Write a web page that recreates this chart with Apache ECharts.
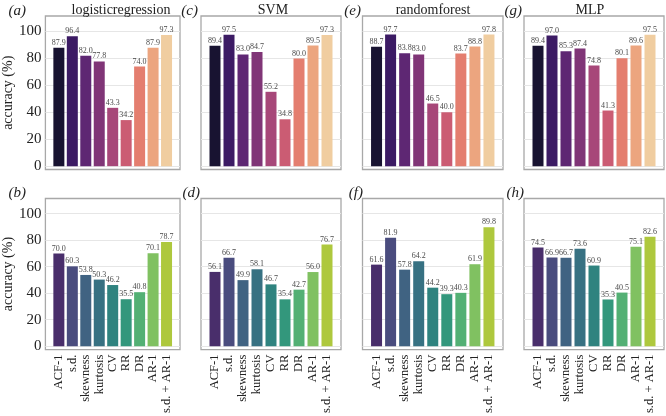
<!DOCTYPE html>
<html><head><meta charset="utf-8">
<script src="https://cdn.jsdelivr.net/npm/echarts@6/dist/echarts.min.js"></script>
<style>html,body{margin:0;padding:0;background:#fff}#c{width:666px;height:416px}</style>
</head><body><div id="c"></div>
<script>
const categories = ['ACF-1','s.d.','skewness','kurtosis','CV','RR','DR','AR-1','s.d. + AR-1'];
const titles = ['logisticregression','SVM','randomforest','MLP'];
const topLetters = ['(a)','(c)','(e)','(g)'];
const botLetters = ['(b)','(d)','(f)','(h)'];
const lrTop  = [87.9,96.4,82.0,77.8,43.3,34.2,74.0,87.9,97.3];
const svmTop = [89.4,97.5,83.0,84.7,55.2,34.8,80.0,89.5,97.3];
const rfTop  = [88.7,97.7,83.8,83.0,46.5,40.0,83.7,88.8,97.8];
const mlpTop = [89.4,97.0,85.3,87.4,74.8,41.3,80.1,89.6,97.5];
const lrBot  = [70.0,60.3,53.8,50.3,46.2,35.5,40.8,70.1,78.7];
const svmBot = [56.1,66.7,49.9,58.1,46.7,35.4,42.7,56.0,76.7];
const rfBot  = [61.6,81.9,57.8,64.2,44.2,39.3,40.3,61.9,89.8];
const mlpBot = [74.5,66.9,66.7,73.6,60.9,35.3,40.5,75.1,82.6];
const yTicks = [0,20,40,60,80,100];

const magma = ['#181331','#3c1b64','#5e2773','#803577','#a74779','#cb5c73','#e47e6f','#eca57f','#f0cda0'];
const viridis = ['#492e6b','#4a4c7e','#406382','#377182','#2f837f','#33977c','#53b074','#80c161','#aec83d'];

const topData = [lrTop, svmTop, rfTop, mlpTop];
const botData = [lrBot, svmBot, rfBot, mlpBot];
const FONT = '"Liberation Serif", "DejaVu Serif", serif';

const lefts = [39, 201, 362.5, 524];
const widths = [141, 140, 140.5, 140];
const rows = [{top:16, height:153.5}, {top:198.5, height:152}];

const grids = [], xAxes = [], yAxes = [], series = [], graphics = [];
let gi = 0;
[topData, botData].forEach((rowData, r) => {
  rowData.forEach((vals, c) => {
    grids.push({left: lefts[c], width: widths[c], top: rows[r].top, height: rows[r].height,
      show: true, borderColor: '#a8a8a8', borderWidth: 1.3, backgroundColor: 'transparent', containLabel: false});
    xAxes.push({type: 'value', gridIndex: gi, min: -1, max: 9,
      axisLine: {show: false}, axisTick: {show: false}, splitLine: {show: false},
      axisLabel: {show: r === 1, customValues: [0,1,2,3,4,5,6,7,8], rotate: 90, margin: 5,
        fontFamily: FONT, fontSize: 12.5, color: '#222',
        formatter: v => categories[Math.round(v)] || ''}});
    yAxes.push({type: 'value', gridIndex: gi, min: -2.5, max: 111.5,
      axisLine: {show: false},
      axisTick: {show: false, customValues: yTicks},
      splitLine: {show: true, lineStyle: {color: '#e6e6e6', width: 1}},
      axisLabel: {show: c === 0, customValues: yTicks, margin: 4, fontFamily: FONT, fontSize: 15, color: '#222'},
      name: c === 0 ? 'accuracy (%)' : '', nameLocation: 'middle', nameGap: 28,
      nameTextStyle: {fontFamily: FONT, fontSize: 14, color: '#222'}});
    const pal = r === 0 ? magma : viridis;
    series.push({type: 'bar', xAxisIndex: gi, yAxisIndex: gi, barWidth: 11,
      data: vals.map((v, i) => ({value: [i, v], itemStyle: {color: pal[i]}})),
      label: {show: true, position: 'top', distance: 1, fontFamily: FONT, fontSize: 8, color: '#4a4a4a',
        formatter: p => p.value[1].toFixed(1)},
      animation: false});
    gi++;
  });
});

const titleCenters = [121, 273, 433, 590];
titles.forEach((t, c) => {
  graphics.push({type: 'text', x: titleCenters[c], y: 10, style: {text: t, fontFamily: FONT, fontSize: 14, fill: '#222', align: 'center', verticalAlign: 'middle'}});
});
const letterRight = [26, 198, 361, 522];
topLetters.forEach((t, c) => {
  graphics.push({type: 'text', x: letterRight[c], y: 11, style: {text: t, fontFamily: FONT, fontStyle: 'italic', fontSize: 15, fill: '#222', align: 'right', verticalAlign: 'middle'}});
});
botLetters.forEach((t, c) => {
  graphics.push({type: 'text', x: letterRight[c] + (c === 0 ? 0 : 2), y: 193, style: {text: t, fontFamily: FONT, fontStyle: 'italic', fontSize: 15, fill: '#222', align: 'right', verticalAlign: 'middle'}});
});

const chart = echarts.init(document.getElementById('c'), null, {renderer: 'canvas'});
chart.setOption({animation: false, grid: grids, xAxis: xAxes, yAxis: yAxes, series: series, graphic: graphics});
</script></body></html>
